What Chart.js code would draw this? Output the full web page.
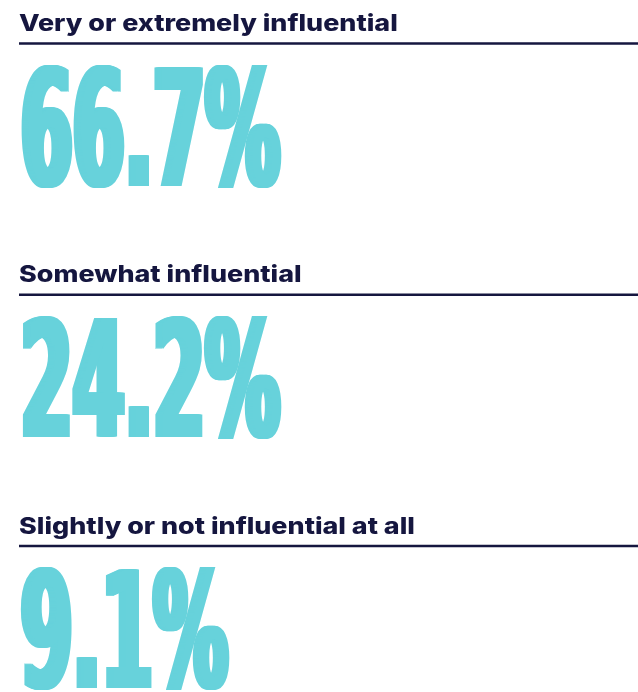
<!DOCTYPE html>
<html>
<head>
<meta charset="utf-8">
<title>Influence</title>
<script src="https://cdn.jsdelivr.net/npm/chart.js@4"></script>
<style>
  html, body { margin: 0; padding: 0; background: #ffffff; }
  #wrap { width: 638px; height: 692px; }
</style>
</head>
<body>
<div id="wrap"><canvas id="statChart"></canvas></div>
<script>
// Data
const categories = ['Very or extremely influential', 'Somewhat influential', 'Slightly or not influential at all'];
const shares = [66.7, 24.2, 9.1];

const navy = '#15163f';
const cyan = '#67d2db';

// Draws heading, rule and big percentage for each category row
const statPlugin = {
    id: 'statPlugin',
    afterDatasetsDraw(chart) {
        const ctx = chart.ctx;
        const area = chart.chartArea;
        const yScale = chart.scales.y;
        const meta = chart.getDatasetMeta(0);

        meta.data.forEach((bar, i) => {
            const y = yScale.getPixelForValue(i);
            const value = chart.data.datasets[0].data[i];

            ctx.save();

            // rule
            ctx.strokeStyle = navy;
            ctx.lineWidth = 2.5;
            ctx.beginPath();
            ctx.moveTo(area.left, y);
            ctx.lineTo(area.right, y);
            ctx.stroke();

            // heading (widened a bit, the original face is broader)
            ctx.save();
            ctx.fillStyle = navy;
            ctx.font = '800 23px Inter, "Open Sans", sans-serif';
            ctx.textBaseline = 'alphabetic';
            ctx.textAlign = 'left';
            ctx.translate(area.left, y - 12.5);
            ctx.scale(1.17, 1);
            ctx.fillText(chart.data.labels[i], 0, 0);
            ctx.restore();

            // big number, squeezed and thickened to look condensed
            const txt = value.toFixed(1) + '%';
            ctx.fillStyle = cyan;
            ctx.font = 'bold 163px "DejaVu Sans Condensed", "DejaVu Sans", sans-serif';
            ctx.translate(area.left - 2, y + 142);
            ctx.scale(0.51, 1);
            for (let k = 0; k <= 14; k += 2) {
                ctx.fillText(txt, k, 0);
            }
            ctx.restore();
        });
    }
};

const ctx = document.getElementById('statChart').getContext('2d');
new Chart(ctx, {
    type: 'bar',
    data: {
        labels: categories,
        datasets: [{
            data: shares,
            backgroundColor: 'rgba(0,0,0,0)',
            borderWidth: 0
        }]
    },
    options: {
        indexAxis: 'y',
        responsive: true,
        maintainAspectRatio: false,
        animation: false,
        layout: {
            padding: { top: 43.5, bottom: 146, left: 19, right: 0 }
        },
        plugins: {
            legend: { display: false },
            tooltip: { enabled: false }
        },
        scales: {
            y: { type: 'category', offset: false, display: false },
            x: { display: false, min: 0, max: 100 }
        }
    },
    plugins: [statPlugin]
});
</script>
</body>
</html>
